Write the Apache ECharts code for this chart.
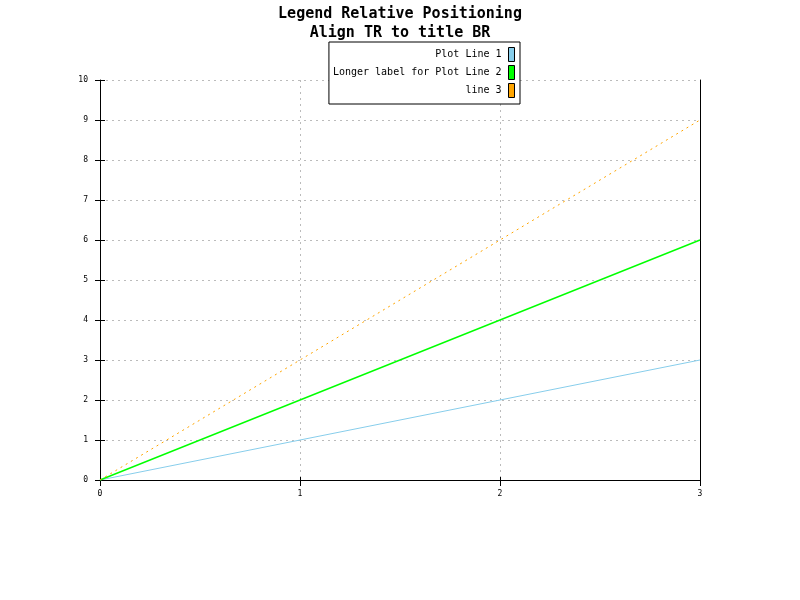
<!DOCTYPE html>
<html><head><meta charset="utf-8">
<script src="https://cdn.jsdelivr.net/npm/echarts@6/dist/echarts.min.js"></script>
<style>html,body{margin:0;padding:0;background:#fff}#c{width:800px;height:600px}</style>
</head><body><div id="c"></div>
<script>
const titleLines = ["Legend Relative Positioning", "Align TR to title BR"];
const seriesNames = ["Plot Line 1", "Longer label for Plot Line 2", "line 3"];
const xValues = [0, 3];
const line1 = [0, 3];
const line2 = [0, 6];
const line3 = [0, 9];
const xTicks = [0, 1, 2, 3];
const yTicks = [0, 1, 2, 3, 4, 5, 6, 7, 8, 9, 10];

const mono = "DejaVu Sans Mono";
const chart = echarts.init(document.getElementById('c'), null, {renderer: 'canvas'});
const mk = (vals) => xValues.map((x, i) => [x, vals[i]]);
const axisFont = {fontFamily: mono, fontSize: 8, color: '#000'};
const grid = {left: 100, right: 100, top: 80, bottom: 120};
chart.setOption({
  animation: false,
  backgroundColor: '#fff',
  title: {
    text: titleLines.join("\n"),
    left: 395, top: 0, textAlign: 'center',
    textStyle: {fontFamily: mono, fontSize: 15, fontWeight: 'bold', lineHeight: 19, color: '#000'}
  },
  legend: {
    orient: 'vertical', right: 280, top: 42, align: 'right',
    icon: 'rect', itemWidth: 6, itemHeight: 14, itemGap: 3,
    padding: [5, 5, 6, 4],
    backgroundColor: '#fff', borderColor: '#000', borderWidth: 1, borderRadius: 0,
    itemStyle: {borderColor: '#000', borderWidth: 1},
    textStyle: {fontFamily: mono, fontSize: 10, color: '#000', width: 166, align: 'right', padding: [0, 2, 0, 0]},
    data: seriesNames
  },
  grid: grid,
  xAxis: [{
    type: 'value', min: xTicks[0], max: xTicks[xTicks.length - 1], interval: 1,
    axisLine: {show: true, onZero: false, lineStyle: {color: '#000', width: 1}},
    axisTick: {show: true, length: 6, lineStyle: {color: '#000'}},
    axisLabel: Object.assign({margin: 10}, axisFont),
    splitLine: {show: true, lineStyle: {color: '#bbb', type: [2, 4]}}
  }, {
    type: 'value', position: 'bottom', min: xTicks[0], max: xTicks[xTicks.length - 1], interval: 1,
    axisLine: {show: false}, axisTick: {show: true, inside: true, length: 3, lineStyle: {color: '#000'}},
    axisLabel: {show: false}, splitLine: {show: false}
  }],
  yAxis: [{
    type: 'value', min: yTicks[0], max: yTicks[yTicks.length - 1], interval: 1,
    axisLine: {show: true, onZero: false, lineStyle: {color: '#000', width: 1}},
    axisTick: {show: true, length: 5, lineStyle: {color: '#000'}},
    axisLabel: Object.assign({margin: 12}, axisFont),
    splitLine: {show: true, lineStyle: {color: '#bbb', type: [2, 4]}}
  }, {
    type: 'value', position: 'left', min: yTicks[0], max: yTicks[yTicks.length - 1], interval: 1,
    axisLine: {show: false}, axisTick: {show: true, inside: true, length: 5, lineStyle: {color: '#000'}},
    axisLabel: {show: false}, splitLine: {show: false}
  }, {
    type: 'value', position: 'right', min: yTicks[0], max: yTicks[yTicks.length - 1], interval: 1,
    axisLine: {show: true, onZero: false, lineStyle: {color: '#000', width: 1}},
    axisTick: {show: false}, axisLabel: {show: false}, splitLine: {show: false}
  }],
  series: [
    {name: seriesNames[0], type: 'line', data: mk(line1), showSymbol: false, color: '#87ceeb', lineStyle: {width: 1, color: '#87ceeb'}},
    {name: seriesNames[1], type: 'line', data: mk(line2), showSymbol: false, color: '#00ff00', lineStyle: {width: 1.5, color: '#00ff00'}},
    {name: seriesNames[2], type: 'line', data: mk(line3), showSymbol: false, color: '#ffa500', lineStyle: {width: 1, color: '#ffa500', type: [2, 4]}}
  ]
});
</script></body></html>
